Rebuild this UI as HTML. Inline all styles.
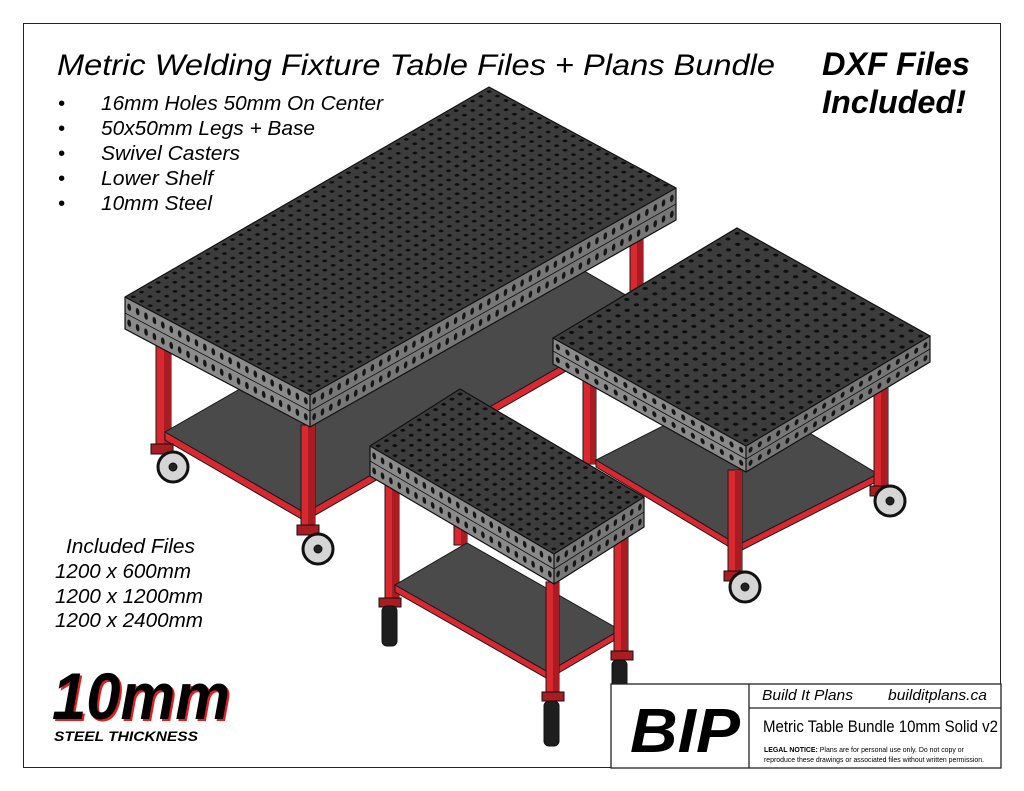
<!DOCTYPE html>
<html><head><meta charset="utf-8"><style>
html,body{margin:0;padding:0;background:#fff;}
svg{display:block;}
text{font-family:"Liberation Sans",Arial,sans-serif;}
</style></head><body>
<svg width="1024" height="791" viewBox="0 0 1024 791" xmlns="http://www.w3.org/2000/svg">
<defs>
<pattern id="h" patternUnits="userSpaceOnUse" width="1" height="1"><circle cx="0.5" cy="0.5" r="0.2" fill="#0d0d0d"/></pattern>
<pattern id="hs" patternUnits="userSpaceOnUse" width="1" height="1"><circle cx="0.5" cy="0.5" r="0.22" fill="#151515"/></pattern>
</defs>
<rect x="0" y="0" width="1024" height="791" fill="#fff"/>
<rect x="23.5" y="23.5" width="977" height="744" fill="none" stroke="#222" stroke-width="1"/>

<!-- ===== BIG TABLE ===== -->
<g stroke="#1a1a1a" stroke-width="1">
<rect x="630" y="215" width="13" height="80" fill="#d9282f"/><rect x="637" y="215" width="6" height="80" fill="#a81c22" stroke="none"/>
<rect x="156" y="325" width="15" height="122" fill="#d9282f"/><rect x="164" y="325" width="7" height="122" fill="#a81c22" stroke="none"/>
<polygon points="165,432 305,513 655,312 515,231" fill="#4a4a4a"/>
<polygon points="165,432 305,513 655,312 655,320 305,521 165,440" fill="#d9282f"/>
<rect x="301" y="425" width="14" height="102" fill="#d9282f"/><rect x="308" y="425" width="7" height="102" fill="#a81c22" stroke="none"/>
</g>
<g stroke="#111">
<rect x="151" y="444" width="22" height="10" fill="#a81c22"/>
<circle cx="173" cy="467" r="15" fill="#d5d5d5" stroke-width="3"/><circle cx="173" cy="467" r="4" fill="#222"/>
<rect x="297" y="525" width="22" height="10" fill="#a81c22"/>
<circle cx="318" cy="549" r="15" fill="#d5d5d5" stroke-width="3"/><circle cx="318" cy="549" r="4" fill="#222"/>
</g>
<polygon points="125,297 310,395 310,427 125,329" fill="#8a8a8a"/>
<g transform="matrix(8.409,4.455,0,16,125,297)"><rect x="0" y="0" width="22" height="2" fill="url(#hs)"/></g>
<polygon points="310,395 676,188 676,220 310,427" fill="#777"/>
<g transform="matrix(8.318,-4.705,0,16,310,395)"><rect x="0" y="0" width="44" height="2" fill="url(#hs)"/></g>
<polygon points="125,297 489,87 676,188 310,395" fill="#3c3c3c"/>
<g transform="matrix(8.273,-4.773,8.409,4.455,125,297)"><rect x="0" y="0" width="44" height="22" fill="url(#h)"/></g>
<g fill="none" stroke="#111" stroke-width="1.2">
<polygon points="125,297 489,87 676,188 676,220 310,427 125,329"/>
<polyline points="125,297 310,395 676,188"/><line x1="310" y1="395" x2="310" y2="427"/>
<polyline points="125,313 310,411 676,204" stroke-width="0.8"/>
</g>

<!-- ===== MEDIUM TABLE ===== -->
<g stroke="#1a1a1a" stroke-width="1">
<rect x="583" y="360" width="13" height="104" fill="#d9282f"/><rect x="590" y="360" width="6" height="104" fill="#a81c22" stroke="none"/>
<polygon points="596,460 738,545 878,474 736,389" fill="#4a4a4a"/>
<polygon points="596,460 738,545 878,474 878,481 738,552 596,467" fill="#d9282f"/>
<rect x="874" y="358" width="14" height="131" fill="#d9282f"/><rect x="881" y="358" width="7" height="131" fill="#a81c22" stroke="none"/>
<rect x="728" y="470" width="14" height="104" fill="#d9282f"/><rect x="735" y="470" width="7" height="104" fill="#a81c22" stroke="none"/>
</g>
<g stroke="#111">
<rect x="870" y="486" width="22" height="10" fill="#a81c22"/>
<circle cx="890" cy="501" r="15" fill="#d5d5d5" stroke-width="3"/><circle cx="890" cy="501" r="4" fill="#222"/>
<rect x="724" y="571" width="22" height="10" fill="#a81c22"/>
<circle cx="745" cy="587" r="15" fill="#d5d5d5" stroke-width="3"/><circle cx="745" cy="587" r="4" fill="#222"/>
</g>
<polygon points="553,338 746,446 746,472 553,364" fill="#8a8a8a"/>
<g transform="matrix(9.65,5.4,0,13,553,338)"><rect x="0" y="0" width="20" height="2" fill="url(#hs)"/></g>
<polygon points="746,446 930,336 930,362 746,472" fill="#777"/>
<g transform="matrix(9.2,-5.5,0,13,746,446)"><rect x="0" y="0" width="20" height="2" fill="url(#hs)"/></g>
<polygon points="553,338 737,228 930,336 746,446" fill="#3c3c3c"/>
<g transform="matrix(9.2,-5.5,9.65,5.4,553,338)"><rect x="0" y="0" width="20" height="20" fill="url(#h)"/></g>
<g fill="none" stroke="#111" stroke-width="1.2">
<polygon points="553,338 737,228 930,336 930,362 746,472 553,364"/>
<polyline points="553,338 746,446 930,336"/><line x1="746" y1="446" x2="746" y2="472"/>
<polyline points="553,351 746,459 930,349" stroke-width="0.8"/>
</g>

<!-- ===== SMALL TABLE ===== -->
<g stroke="#1a1a1a" stroke-width="1">
<rect x="454" y="470" width="13" height="75" fill="#d9282f"/><rect x="461" y="470" width="6" height="75" fill="#a81c22" stroke="none"/>
<rect x="385" y="474" width="14" height="129" fill="#d9282f"/><rect x="392" y="474" width="7" height="129" fill="#a81c22" stroke="none"/>
<polygon points="395,585 548,672 620,630 467,543" fill="#4a4a4a"/>
<polygon points="395,585 548,672 620,630 620,637 548,679 395,592" fill="#d9282f"/>
<rect x="614" y="525" width="14" height="131" fill="#d9282f"/><rect x="621" y="525" width="7" height="131" fill="#a81c22" stroke="none"/>
<rect x="546" y="582" width="13" height="114" fill="#d9282f"/><rect x="553" y="582" width="6" height="114" fill="#a81c22" stroke="none"/>
</g>
<g stroke="#111">
<rect x="379" y="598" width="22" height="9" fill="#a81c22"/>
<rect x="382" y="606" width="15" height="40" rx="5" fill="#1e1e1e"/>
<rect x="611" y="651" width="22" height="9" fill="#a81c22"/>
<rect x="612" y="660" width="15" height="43" rx="5" fill="#1e1e1e"/>
<rect x="542" y="692" width="22" height="9" fill="#a81c22"/>
<rect x="544" y="701" width="15" height="45" rx="5" fill="#1e1e1e"/>
</g>
<polygon points="370,446 554,554 554,584 370,476" fill="#8a8a8a"/>
<g transform="matrix(8.364,4.909,0,15,370,446)"><rect x="0" y="0" width="22" height="2" fill="url(#hs)"/></g>
<polygon points="554,554 644,497 644,527 554,584" fill="#777"/>
<g transform="matrix(8.182,-5.182,0,15,554,554)"><rect x="0" y="0" width="11" height="2" fill="url(#hs)"/></g>
<polygon points="370,446 460,389 644,497 554,554" fill="#3c3c3c"/>
<g transform="matrix(8.182,-5.182,8.364,4.909,370,446)"><rect x="0" y="0" width="11" height="22" fill="url(#h)"/></g>
<g fill="none" stroke="#111" stroke-width="1.2">
<polygon points="370,446 460,389 644,497 644,527 554,584 370,476"/>
<polyline points="370,446 554,554 644,497"/><line x1="554" y1="554" x2="554" y2="584"/>
<polyline points="370,461 554,569 644,512" stroke-width="0.8"/>
</g>

<!-- ===== TEXT ===== -->
<text x="57" y="75" font-size="30" font-style="italic" textLength="718" lengthAdjust="spacingAndGlyphs">Metric Welding Fixture Table Files + Plans Bundle</text>
<g font-size="20" font-style="italic">
<text x="58" y="110">•</text><text x="101" y="110" textLength="282" lengthAdjust="spacingAndGlyphs">16mm Holes 50mm On Center</text>
<text x="58" y="135">•</text><text x="101" y="135" textLength="214" lengthAdjust="spacingAndGlyphs">50x50mm Legs + Base</text>
<text x="58" y="160">•</text><text x="101" y="160" textLength="139" lengthAdjust="spacingAndGlyphs">Swivel Casters</text>
<text x="58" y="185">•</text><text x="101" y="185" textLength="112" lengthAdjust="spacingAndGlyphs">Lower Shelf</text>
<text x="58" y="210">•</text><text x="101" y="210" textLength="111" lengthAdjust="spacingAndGlyphs">10mm Steel</text>
<text x="66" y="553" textLength="129" lengthAdjust="spacingAndGlyphs">Included Files</text>
<text x="55" y="578" textLength="136" lengthAdjust="spacingAndGlyphs">1200 x 600mm</text>
<text x="55" y="603" textLength="148" lengthAdjust="spacingAndGlyphs">1200 x 1200mm</text>
<text x="55" y="627" textLength="148" lengthAdjust="spacingAndGlyphs">1200 x 2400mm</text>
</g>
<g font-size="32" font-style="italic" font-weight="bold">
<text x="822" y="75" textLength="148" lengthAdjust="spacingAndGlyphs">DXF Files</text>
<text x="822" y="113" textLength="144" lengthAdjust="spacingAndGlyphs">Included!</text>
</g>
<g font-size="66" font-style="italic" font-weight="bold">
<text x="54" y="721" fill="#e02020" textLength="178" lengthAdjust="spacingAndGlyphs">10mm</text>
<text x="52" y="719" fill="#000" textLength="178" lengthAdjust="spacingAndGlyphs">10mm</text>
</g>
<text x="54" y="741" font-size="14" font-style="italic" font-weight="bold" textLength="144" lengthAdjust="spacingAndGlyphs">STEEL THICKNESS</text>

<g fill="none" stroke="#222" stroke-width="1.3">
<rect x="611" y="684" width="390" height="84" fill="#fff"/>
<line x1="749" y1="684" x2="749" y2="768"/>
<line x1="749" y1="708" x2="1001" y2="708"/>
</g>
<text x="630" y="752" font-size="62" font-style="italic" font-weight="bold" textLength="110" lengthAdjust="spacingAndGlyphs">BIP</text>
<text x="762" y="700" font-size="15" font-style="italic" textLength="91" lengthAdjust="spacingAndGlyphs">Build It Plans</text>
<text x="888" y="700" font-size="15" font-style="italic" textLength="99" lengthAdjust="spacingAndGlyphs">builditplans.ca</text>
<text x="763" y="732" font-size="17" textLength="235" lengthAdjust="spacingAndGlyphs">Metric Table Bundle 10mm Solid v2</text>
<text x="764" y="752" font-size="7.2" textLength="200" lengthAdjust="spacingAndGlyphs"><tspan font-weight="bold">LEGAL NOTICE:</tspan> Plans are for personal use only. Do not copy or</text>
<text x="764" y="762" font-size="7.2" textLength="220" lengthAdjust="spacingAndGlyphs">reproduce these drawings or associated files without written permission.</text>
</svg>
</body></html>
